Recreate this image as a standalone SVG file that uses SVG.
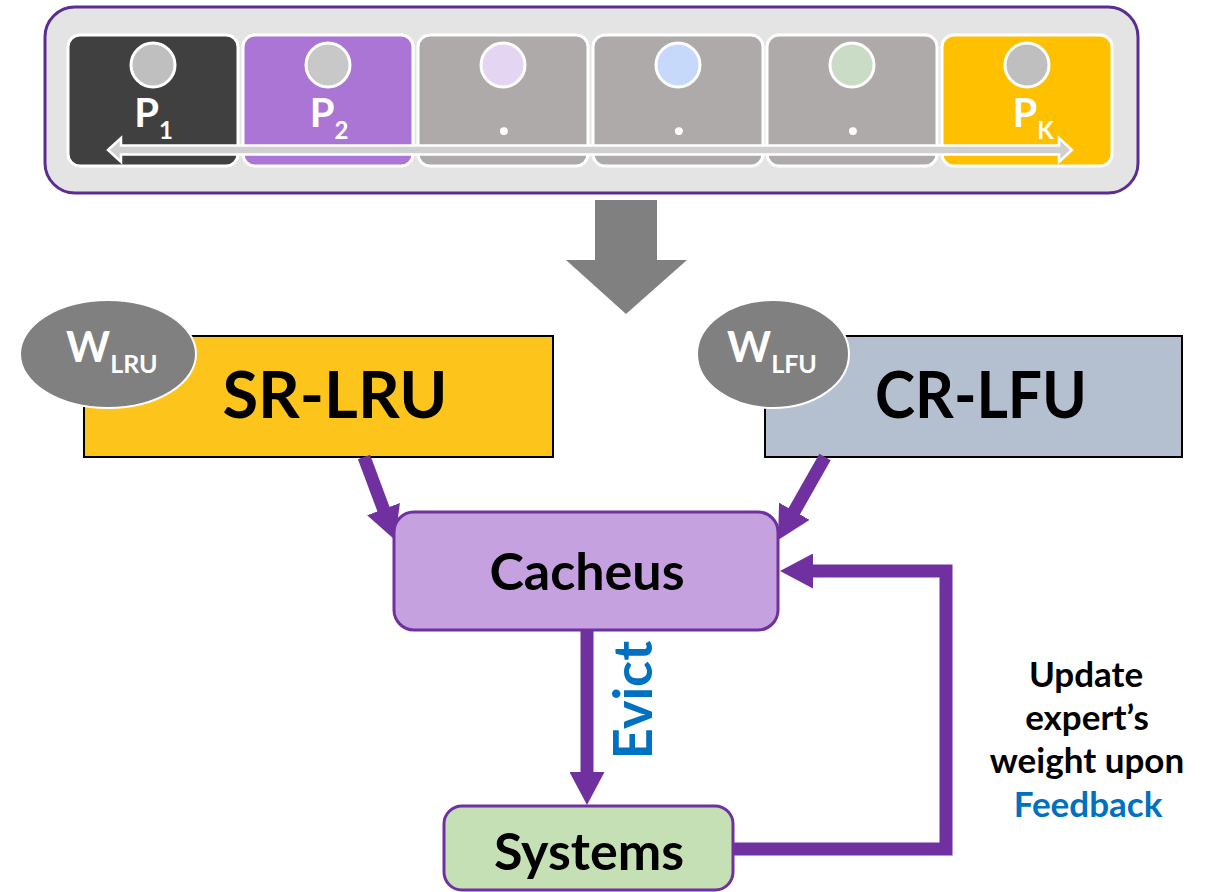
<svg xmlns="http://www.w3.org/2000/svg" width="1209" height="892" viewBox="0 0 1209 892">
<style>
text{font-family:Lato,"Open Sans","Liberation Sans",sans-serif;font-weight:700}
.cell{stroke:#fff;stroke-width:3}
.dot{stroke:#fff;stroke-width:3}
.pl{fill:#fff;font-size:40px;text-anchor:middle}
.pd{fill:#fff;font-size:52px;text-anchor:middle}
.wl{fill:#fff;font-size:42px}
.big{fill:#000;font-size:65px;text-anchor:middle}
.mid{fill:#000;font-size:52px;text-anchor:middle}
.fb{font-size:35px;text-anchor:middle;fill:#000}
.conn{fill:none;stroke:#7030a0;stroke-width:13}
</style>
<defs>
<marker id="ah" markerUnits="userSpaceOnUse" markerWidth="33" markerHeight="35" viewBox="0 0 33 35" refX="2" refY="17.5" orient="auto">
<path d="M0,0 L33,17.5 L0,35 z" fill="#7030a0"/>
</marker>
</defs>
<g id="pool">
<rect x="45" y="7" width="1093" height="186" rx="30" fill="#e4e4e4" stroke="#5c2d91" stroke-width="3"/>
<rect class="cell" x="68" y="35" width="170" height="131" rx="12" fill="#404040"/>
<rect class="cell" x="243" y="35" width="170" height="131" rx="12" fill="#ab75d5"/>
<rect class="cell" x="418" y="35" width="170" height="131" rx="12" fill="#aeaaaa"/>
<rect class="cell" x="593" y="35" width="170" height="131" rx="12" fill="#aeaaaa"/>
<rect class="cell" x="767" y="35" width="170" height="131" rx="12" fill="#aeaaaa"/>
<rect class="cell" x="942" y="35" width="170" height="131" rx="12" fill="#ffc000"/>
<circle class="dot" cx="153" cy="65" r="22" fill="#bfbfbf"/>
<circle class="dot" cx="328" cy="65" r="22" fill="#c8c8c8"/>
<circle class="dot" cx="503" cy="65" r="22" fill="#e4d6f2"/>
<circle class="dot" cx="678" cy="65" r="22" fill="#c6d9fb"/>
<circle class="dot" cx="852" cy="65" r="22" fill="#cadcc6"/>
<circle class="dot" cx="1027" cy="65" r="22" fill="#bfbfbf"/>
<text class="pl" x="153.5" y="127">P<tspan font-size="24" dy="12">1</tspan></text>
<text class="pl" x="329" y="127">P<tspan font-size="24" dy="12">2</tspan></text>
<text class="pd" x="504" y="135">.</text>
<text class="pd" x="679" y="135">.</text>
<text class="pd" x="853" y="135">.</text>
<text class="pl" x="1033" y="127">P<tspan font-size="24" dy="12">K</tspan></text>
<polygon points="108,150 121,138 121,145.5 1059,145.5 1059,138 1072,150 1059,162 1059,154.5 121,154.5 121,162" fill="#d0d0d0" stroke="#fff" stroke-width="2.5" stroke-linejoin="miter"/>
</g>
<g id="down-arrow">
<polygon points="595,200 657,200 657,260 687,260 626,314 566,260 595,260" fill="#808080"/>
</g>
<g id="sr-lru">
<rect x="84" y="336" width="469" height="121" fill="#fdc51b" stroke="#000" stroke-width="2"/>
<text class="big" x="335" y="418">SR-LRU</text>
</g>
<g id="w-lru">
<ellipse cx="108" cy="354" rx="88" ry="54" fill="#808080" stroke="#fff" stroke-width="2"/>
<text class="wl" x="66" y="362">W<tspan font-size="25" dy="11">LRU</tspan></text>
</g>
<g id="cr-lfu">
<rect x="765" y="336" width="417" height="121" fill="#b4c0cf" stroke="#000" stroke-width="2"/>
<text class="big" x="981" y="418" textLength="212" lengthAdjust="spacingAndGlyphs">CR-LFU</text>
</g>
<g id="w-lfu">
<ellipse cx="773" cy="354" rx="76" ry="54" fill="#808080" stroke="#fff" stroke-width="2"/>
<text class="wl" x="727" y="362">W<tspan font-size="25" dy="11">LFU</tspan></text>
</g>
<g id="connectors">
<line class="conn" x1="364" y1="457" x2="384.2" y2="511" marker-end="url(#ah)"/>
<line class="conn" x1="825" y1="457" x2="793.3" y2="513" marker-end="url(#ah)"/>
<line class="conn" x1="587" y1="630" x2="587" y2="774" marker-end="url(#ah)"/>
<polyline class="conn" points="733,849 946,849 946,571 811,571" marker-end="url(#ah)"/>
</g>
<g id="cacheus">
<rect x="394" y="512" width="384" height="118" rx="20" fill="#c6a1e0" stroke="#7030a0" stroke-width="3"/>
<text class="mid" x="587" y="590">Cacheus</text>
</g>
<g id="systems">
<rect x="444" y="806" width="289" height="84" rx="18" fill="#c5e0b4" stroke="#7030a0" stroke-width="3"/>
<text class="mid" x="589" y="870">Systems</text>
</g>
<g id="labels">
<text transform="translate(652,700) rotate(-90)" x="0" y="0" font-size="54" fill="#0070c0" text-anchor="middle">Evict</text>
<text class="fb" x="1086" y="687">Update</text>
<text class="fb" x="1087" y="730">expert’s</text>
<text class="fb" x="1087" y="773">weight upon</text>
<text class="fb" x="1088" y="817" style="fill:#0070c0">Feedback</text>
</g>
</svg>
